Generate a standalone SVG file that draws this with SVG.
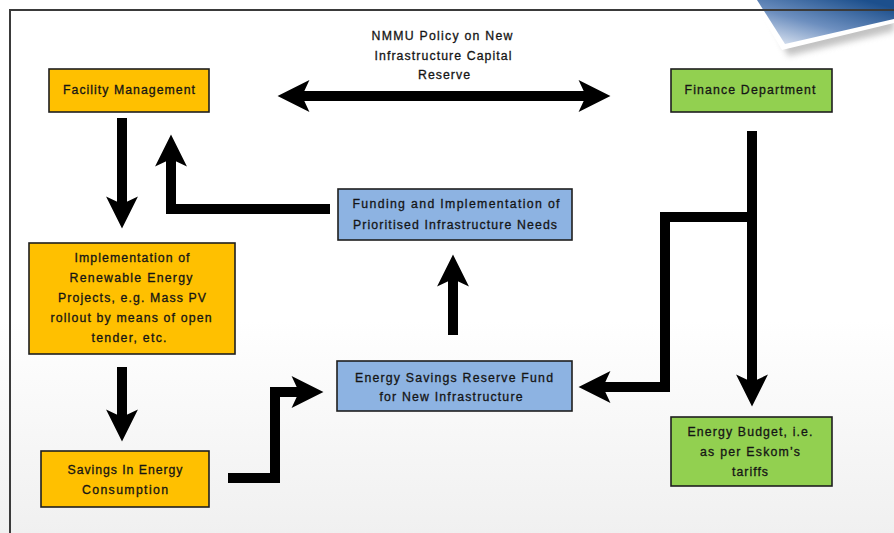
<svg xmlns="http://www.w3.org/2000/svg" width="894" height="533" viewBox="0 0 894 533">
  <defs>
    <linearGradient id="bg" x1="0" y1="0" x2="0" y2="1">
      <stop offset="0" stop-color="#ffffff"/>
      <stop offset="0.6" stop-color="#ffffff"/>
      <stop offset="1" stop-color="#f0f0f0"/>
    </linearGradient>
    <linearGradient id="tab" x1="0.15" y1="1" x2="0.9" y2="0.1">
      <stop offset="0" stop-color="#d6e0ef"/>
      <stop offset="0.45" stop-color="#6d8fbf"/>
      <stop offset="1" stop-color="#1c4f8c"/>
    </linearGradient>
    <filter id="soft" x="-20%" y="-20%" width="140%" height="160%">
      <feGaussianBlur stdDeviation="3"/>
    </filter>
    <marker id="head" markerUnits="userSpaceOnUse" markerWidth="34" markerHeight="34"
            viewBox="0 -16 31 32" refX="7" refY="0" orient="auto-start-reverse">
      <path d="M0,-15 L30,0 L0,15 L7,0 Z" fill="#000"/>
    </marker>
    <style>
      .frame { fill: none; stroke: #3a3a3a; stroke-width: 2; }
      .box { stroke: #1e1e1e; stroke-width: 1.6; }
      .orange { fill: #ffc000; }
      .green { fill: #92d050; }
      .blue { fill: #8db3e2; }
      .lbl { font-family: "Liberation Sans", Arial, sans-serif; font-size: 12.3px; fill: #151515; stroke: #151515; stroke-width: 0.3; text-anchor: middle; }
      .conn { fill: none; stroke: #000; stroke-width: 10; stroke-linejoin: miter; stroke-linecap: butt; }
    </style>
  </defs>

  <!-- page background -->
  <rect x="0" y="0" width="894" height="533" fill="url(#bg)"/>

  <!-- decorative tab in the top-right corner -->
  <polygon points="762,0 788,56 894,31 894,0" fill="#9a9a9a" opacity="0.6" filter="url(#soft)"/>
  <polygon points="752,0 782,50 894,23 894,0" fill="#ffffff"/>
  <polygon points="757,0 785,44 894,19 894,0" fill="url(#tab)"/>

  <!-- page frame -->
  <path class="frame" d="M10,533 V10 H894"/>

  <!-- connectors -->
  <g id="connectors">
    <path class="conn" d="M302,96 H586" marker-start="url(#head)" marker-end="url(#head)"/>
    <path class="conn" d="M122,118 V204" marker-end="url(#head)"/>
    <path class="conn" d="M330,209 H171 V159" marker-end="url(#head)"/>
    <path class="conn" d="M122,367 V417" marker-end="url(#head)"/>
    <path class="conn" d="M228,478 H275 V392 H299" marker-end="url(#head)"/>
    <path class="conn" d="M453,335 V279" marker-end="url(#head)"/>
    <path class="conn" d="M752,131 V382" marker-end="url(#head)"/>
    <path class="conn" d="M752,217 H665 V387 H603" marker-end="url(#head)"/>
  </g>

  <!-- policy label over the double arrow -->
  <g id="policy-label">
    <text class="lbl" x="442" y="40" textLength="141">NMMU  Policy on New</text>
    <text class="lbl" x="443" y="60" textLength="137">Infrastructure Capital</text>
    <text class="lbl" x="444" y="79" textLength="52">Reserve</text>
  </g>

  <g id="facility-management">
    <rect class="box orange" x="49" y="69" width="160" height="43"/>
    <text class="lbl" x="129" y="94" textLength="132">Facility Management</text>
  </g>

  <g id="finance-department">
    <rect class="box green" x="671" y="69" width="161" height="43"/>
    <text class="lbl" x="750" y="94" textLength="131">Finance Department</text>
  </g>

  <g id="funding-implementation">
    <rect class="box blue" x="338" y="189" width="234" height="51"/>
    <text class="lbl" x="456" y="208" textLength="207">Funding and Implementation of</text>
    <text class="lbl" x="455" y="229" textLength="204">Prioritised Infrastructure Needs</text>
  </g>

  <g id="renewable-projects">
    <rect class="box orange" x="29" y="243" width="206" height="111"/>
    <text class="lbl" x="132" y="262" textLength="115">Implementation of</text>
    <text class="lbl" x="131" y="282" textLength="123">Renewable  Energy</text>
    <text class="lbl" x="132" y="302" textLength="148">Projects, e.g. Mass PV</text>
    <text class="lbl" x="131" y="322" textLength="161">rollout by  means of open</text>
    <text class="lbl" x="129" y="342" textLength="75">tender,  etc.</text>
  </g>

  <g id="reserve-fund">
    <rect class="box blue" x="337" y="361" width="235" height="50"/>
    <text class="lbl" x="454" y="382" textLength="198">Energy  Savings Reserve  Fund</text>
    <text class="lbl" x="451" y="401" textLength="143">for New Infrastructure</text>
  </g>

  <g id="energy-savings">
    <rect class="box orange" x="41" y="451" width="168" height="56"/>
    <text class="lbl" x="125" y="474" textLength="115">Savings In Energy</text>
    <text class="lbl" x="125" y="494" textLength="86">Consumption</text>
  </g>

  <g id="energy-budget">
    <rect class="box green" x="671" y="417" width="161" height="69"/>
    <text class="lbl" x="750" y="436" textLength="125">Energy  Budget,  i.e.</text>
    <text class="lbl" x="750" y="456" textLength="100">as per Eskom’s</text>
    <text class="lbl" x="750" y="476" textLength="36">tariffs</text>
  </g>
</svg>
